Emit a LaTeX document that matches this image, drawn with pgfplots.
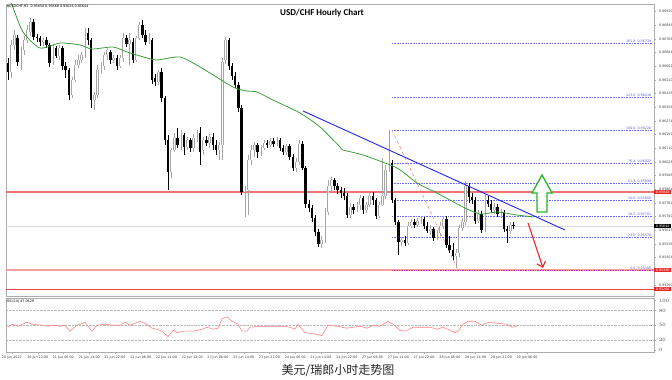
\documentclass[border=0pt]{standalone}
\usepackage{fontspec}
\setmainfont{DejaVu Sans}
\newfontfamily\titlefont{Carlito}
\newfontfamily\cjk{Noto Sans CJK SC}
\usepackage{pgfplots}
\usepackage{pgfplotstable}
\pgfplotsset{compat=1.18}
\usetikzlibrary{arrows.meta}

\definecolor{magreen}{RGB}{60,160,60}
\definecolor{tlblue}{RGB}{35,35,235}
\definecolor{fibblue}{RGB}{110,110,255}
\definecolor{lred}{RGB}{242,115,115}
\definecolor{pred}{RGB}{245,160,160}
\definecolor{dred}{RGB}{232,70,70}
\definecolor{boxred}{RGB}{235,40,40}
\definecolor{rsired}{RGB}{255,130,130}
\definecolor{fibmag}{RGB}{200,50,200}
\definecolor{bullgray}{RGB}{165,165,165}
\definecolor{arrgreen}{RGB}{40,180,40}
\definecolor{arrred}{RGB}{230,40,40}
\newcommand\tinyf{\fontsize{3.3}{4}\selectfont}

\pgfplotstableread{
i o h l c
0 0.96622 0.96652 0.96520 0.96568
1 0.96568 0.96760 0.96532 0.96730
2 0.96730 0.96820 0.96700 0.96790
3 0.96772 0.96790 0.96604 0.96628
4 0.96628 0.96718 0.96580 0.96700
5 0.96700 0.96784 0.96670 0.96760
6 0.96760 0.96850 0.96742 0.96820
7 0.96808 0.96892 0.96784 0.96868
8 0.96868 0.96886 0.96760 0.96778
9 0.96778 0.96796 0.96748 0.96772
10 0.96772 0.96784 0.96724 0.96748
11 0.96748 0.96772 0.96724 0.96760
12 0.96760 0.96778 0.96712 0.96730
13 0.96730 0.96742 0.96598 0.96622
14 0.96628 0.96730 0.96610 0.96712
15 0.96712 0.96724 0.96652 0.96664
16 0.96664 0.96730 0.96640 0.96712
17 0.96712 0.96724 0.96580 0.96604
18 0.96604 0.96628 0.96532 0.96580
19 0.96580 0.96592 0.96400 0.96430
20 0.96430 0.96538 0.96412 0.96520
21 0.96520 0.96640 0.96508 0.96610
22 0.96610 0.96670 0.96592 0.96640
23 0.96640 0.96688 0.96622 0.96670
24 0.96670 0.96832 0.96652 0.96808
25 0.96802 0.96832 0.96730 0.96760
26 0.96760 0.96772 0.96352 0.96400
27 0.96400 0.96448 0.96340 0.96430
28 0.96430 0.96610 0.96412 0.96580
29 0.96580 0.96628 0.96556 0.96604
30 0.96604 0.96688 0.96580 0.96670
31 0.96670 0.96712 0.96640 0.96700
32 0.96688 0.96700 0.96616 0.96640
33 0.96640 0.96670 0.96622 0.96652
34 0.96652 0.96670 0.96580 0.96604
35 0.96604 0.96670 0.96592 0.96652
36 0.96652 0.96802 0.96628 0.96772
37 0.96772 0.96790 0.96718 0.96736
38 0.96736 0.96802 0.96610 0.96760
39 0.96748 0.96772 0.96622 0.96640
40 0.96640 0.96784 0.96628 0.96772
41 0.96772 0.96868 0.96760 0.96850
42 0.96850 0.96880 0.96772 0.96790
43 0.96790 0.96820 0.96730 0.96748
44 0.96748 0.96802 0.96736 0.96772
45 0.96760 0.96772 0.96496 0.96520
46 0.96532 0.96556 0.96484 0.96508
47 0.96508 0.96580 0.96490 0.96568
48 0.96568 0.96592 0.96388 0.96412
49 0.96412 0.96424 0.96130 0.96160
50 0.96160 0.96190 0.95860 0.95968
51 0.95968 0.96112 0.95932 0.96100
52 0.96100 0.96202 0.96088 0.96172
53 0.96172 0.96232 0.96112 0.96130
54 0.96130 0.96220 0.96100 0.96190
55 0.96190 0.96202 0.96070 0.96118
56 0.96118 0.96178 0.96100 0.96160
57 0.96160 0.96172 0.96088 0.96112
58 0.96112 0.96196 0.96088 0.96172
59 0.96172 0.96220 0.96148 0.96202
60 0.96202 0.96238 0.96010 0.96088
61 0.96100 0.96178 0.96070 0.96160
62 0.96160 0.96184 0.96124 0.96142
63 0.96142 0.96196 0.96112 0.96178
64 0.96178 0.96202 0.96100 0.96130
65 0.96130 0.96160 0.96070 0.96100
66 0.96100 0.96148 0.96040 0.96130
67 0.96130 0.96652 0.96040 0.96628
68 0.96640 0.96778 0.96616 0.96760
69 0.96760 0.96772 0.96580 0.96604
70 0.96604 0.96622 0.96520 0.96544
71 0.96544 0.96568 0.96472 0.96490
72 0.96490 0.96508 0.96328 0.96352
73 0.96352 0.96370 0.95830 0.95848
74 0.95848 0.95884 0.95698 0.95860
75 0.95860 0.96070 0.95710 0.96040
76 0.96040 0.96130 0.96010 0.96100
77 0.96100 0.96148 0.96058 0.96130
78 0.96130 0.96142 0.96052 0.96088
79 0.96088 0.96130 0.96064 0.96112
80 0.96112 0.96160 0.96100 0.96142
81 0.96142 0.96160 0.96112 0.96130
82 0.96130 0.96172 0.96118 0.96154
83 0.96154 0.96172 0.96118 0.96136
84 0.96136 0.96178 0.96124 0.96160
85 0.96160 0.96172 0.96094 0.96112
86 0.96112 0.96130 0.96070 0.96088
87 0.96088 0.96136 0.96070 0.96124
88 0.96124 0.96136 0.96040 0.96058
89 0.96058 0.96076 0.95974 0.95992
90 0.95992 0.96052 0.95968 0.96028
91 0.96028 0.96160 0.96010 0.96136
92 0.96136 0.96154 0.95980 0.95992
93 0.95992 0.96004 0.95752 0.95776
94 0.95776 0.95800 0.95728 0.95752
95 0.95752 0.95770 0.95668 0.95692
96 0.95692 0.95710 0.95584 0.95608
97 0.95608 0.95626 0.95518 0.95536
98 0.95536 0.95584 0.95512 0.95560
99 0.95560 0.95752 0.95542 0.95728
100 0.95728 0.95920 0.95710 0.95884
101 0.95884 0.95938 0.95848 0.95920
102 0.95920 0.95932 0.95860 0.95884
103 0.95884 0.95902 0.95836 0.95860
104 0.95860 0.95878 0.95812 0.95842
105 0.95842 0.95872 0.95800 0.95824
106 0.95824 0.95842 0.95692 0.95710
107 0.95710 0.95782 0.95692 0.95758
108 0.95758 0.95776 0.95716 0.95740
109 0.95740 0.95788 0.95728 0.95770
110 0.95770 0.95830 0.95740 0.95812
111 0.95812 0.95824 0.95716 0.95740
112 0.95740 0.95788 0.95722 0.95770
113 0.95770 0.95842 0.95758 0.95824
114 0.95824 0.95848 0.95770 0.95800
115 0.95800 0.95812 0.95686 0.95704
116 0.95704 0.95788 0.95692 0.95770
117 0.95770 0.96052 0.95764 0.95824
118 0.95824 0.96010 0.95806 0.95980
119 0.95980 0.96220 0.95968 0.96022
120 0.96022 0.96040 0.95782 0.95800
121 0.95800 0.95812 0.95650 0.95668
122 0.95668 0.95680 0.95470 0.95548
123 0.95548 0.95578 0.95524 0.95560
124 0.95560 0.95584 0.95524 0.95542
125 0.95542 0.95668 0.95530 0.95644
126 0.95644 0.95686 0.95632 0.95668
127 0.95668 0.95686 0.95632 0.95650
128 0.95650 0.95692 0.95638 0.95674
129 0.95674 0.95704 0.95656 0.95686
130 0.95686 0.95698 0.95626 0.95644
131 0.95644 0.95668 0.95602 0.95614
132 0.95614 0.95650 0.95590 0.95626
133 0.95626 0.95638 0.95554 0.95572
134 0.95572 0.95620 0.95560 0.95602
135 0.95602 0.95668 0.95584 0.95644
136 0.95644 0.95704 0.95626 0.95686
137 0.95686 0.95704 0.95512 0.95530
138 0.95530 0.95584 0.95482 0.95500
139 0.95500 0.95542 0.95440 0.95464
140 0.95464 0.95506 0.95392 0.95482
141 0.95482 0.95650 0.95458 0.95632
142 0.95632 0.95692 0.95614 0.95668
143 0.95668 0.95914 0.95650 0.95884
144 0.95884 0.95902 0.95782 0.95818
145 0.95818 0.95842 0.95776 0.95800
146 0.95800 0.95818 0.95656 0.95674
147 0.95674 0.95740 0.95662 0.95716
148 0.95716 0.95734 0.95602 0.95620
149 0.95620 0.95830 0.95608 0.95800
150 0.95800 0.95824 0.95758 0.95776
151 0.95776 0.95800 0.95722 0.95740
152 0.95740 0.95782 0.95716 0.95758
153 0.95758 0.95776 0.95698 0.95716
154 0.95716 0.95746 0.95692 0.95728
155 0.95728 0.95740 0.95608 0.95626
156 0.95626 0.95644 0.95542 0.95614
157 0.95614 0.95668 0.95596 0.95650
158 0.95650 0.95668 0.95626 0.95644
}\candles

\begin{document}
\begin{tikzpicture}
\path[use as bounding box] (0,0) rectangle (672pt,-380pt);

\begin{axis}[
  at={(6pt,-4pt)}, anchor=north west, scale only axis,
  width=648pt, height=292.5pt,
  xmin=-0.625, xmax=201.875, ymin=0.95221, ymax=0.96976,
  clip mode=individual,
  axis line style={gray!65, line width=0.6pt},
  xtick=\empty,
  ytick={0.96930,0.96848,0.96766,0.96684,0.96602,0.96520,0.96438,0.96356,0.96274,0.96192,0.96110,0.96028,0.95946,0.95864,0.95782,0.95700,0.95618,0.95536,0.95454,0.95290},
  yticklabels={0.96930,0.96848,0.96766,0.96684,0.96602,0.96520,0.96438,0.96356,0.96274,0.96192,0.96110,0.96028,0.95946,0.95864,0.95782,0.95700,0.95618,0.95536,0.95454,0.95290},
  ytick pos=right, yticklabel pos=right,
  tick align=outside, major tick length=2pt,
  tick style={gray!65, line width=0.4pt},
  yticklabel style={font=\tinyf, text=black!75, anchor=west, xshift=-0.5pt},
]
% horizontal levels
\addplot[gray!30, line width=0.6pt] coordinates {(-0.625,0.95644) (201.875,0.95644)};
\addplot[lred, line width=1.6pt] coordinates {(-0.625,0.95848) (201.875,0.95848)};
\addplot[pred, line width=1.8pt] coordinates {(-0.625,0.95380) (201.875,0.95380)};
\addplot[dred, line width=0.7pt] coordinates {(-0.625,0.95266) (201.875,0.95266)};
% fibonacci levels
\addplot[fibblue, densely dotted, line width=0.6pt] coordinates {(120,0.96739) (201.3,0.96739)};
\addplot[fibblue, densely dotted, line width=0.6pt] coordinates {(120,0.96418) (201.3,0.96418)};
\addplot[fibblue, densely dotted, line width=0.6pt] coordinates {(120,0.96220) (201.3,0.96220)};
\addplot[fibblue, densely dotted, line width=0.6pt] coordinates {(120,0.96022) (201.3,0.96022)};
\addplot[fibblue, densely dotted, line width=0.6pt] coordinates {(120,0.95899) (201.3,0.95899)};
\addplot[fibblue, densely dotted, line width=0.6pt] coordinates {(120,0.95800) (201.3,0.95800)};
\addplot[fibblue, densely dotted, line width=0.6pt] coordinates {(120,0.95701) (201.3,0.95701)};
\addplot[fibblue, densely dotted, line width=0.6pt] coordinates {(120,0.95578) (201.3,0.95578)};
\addplot[fibmag, densely dotted, line width=0.7pt] coordinates {(120,0.95380) (201.3,0.95380)};
\addplot[lred, dashed, line width=0.5pt] coordinates {(120,0.96220) (140.6,0.95380)};

% wicks
\addplot[draw=none, mark=none, restrict expr to domain={\thisrow{c}-\thisrow{o}}{0:1},
  error bars/.cd, y dir=plus, y explicit, error mark=none,
  error bar style={draw=bullgray, line width=0.5pt}]
  table[x=i, y=l, y error plus expr=\thisrow{h}-\thisrow{l}] {\candles};
\addplot[draw=none, mark=none, restrict expr to domain={\thisrow{o}-\thisrow{c}}{0.000005:1},
  error bars/.cd, y dir=plus, y explicit, error mark=none,
  error bar style={draw=black, line width=0.5pt}]
  table[x=i, y=l, y error plus expr=\thisrow{h}-\thisrow{l}] {\candles};
% bodies
\addplot[draw=none, mark=none, restrict expr to domain={\thisrow{c}-\thisrow{o}}{0:1},
  error bars/.cd, y dir=plus, y explicit, error mark=none,
  error bar style={draw=bullgray, line width=2.3pt}]
  table[x=i, y=o, y error plus expr=\thisrow{c}-\thisrow{o}] {\candles};
\addplot[draw=none, mark=none, restrict expr to domain={\thisrow{c}-\thisrow{o}}{0:1},
  error bars/.cd, y dir=plus, y explicit, error mark=none,
  error bar style={draw=white, line width=1.0pt}]
  table[x=i, y=o, y error plus expr=\thisrow{c}-\thisrow{o}] {\candles};
\addplot[draw=none, mark=none, restrict expr to domain={\thisrow{o}-\thisrow{c}}{0.000005:1},
  error bars/.cd, y dir=plus, y explicit, error mark=none,
  error bar style={draw=black, line width=2.3pt}]
  table[x=i, y=c, y error plus expr=\thisrow{o}-\thisrow{c}] {\candles};

% moving average
\addplot[magreen, line width=0.8pt, smooth, tension=0.4] coordinates {
(0.6,0.96990) (1.25,0.96970) (4.69,0.96808) (10,0.96712) (16.25,0.96742) (22.5,0.96730)
(26.25,0.96706) (32.81,0.96718) (37.19,0.96688) (43.44,0.96652) (46.56,0.96640)
(53.75,0.96658) (60,0.96598) (70.31,0.96478) (74.69,0.96454) (77.81,0.96448)
(82.81,0.96400) (91.25,0.96322) (97.5,0.96238) (103.75,0.96118) (104.69,0.96100)
(110.94,0.96070) (121.56,0.95992) (127.81,0.95902) (134.06,0.95842) (142.19,0.95758)
(147.5,0.95716) (152.81,0.95728) (159.06,0.95710) (164.06,0.95698)};
% trend line
\addplot[tlblue, line width=0.9pt] coordinates {(92.19,0.96334) (174.06,0.95620)};

% arrows
\draw[arrgreen, line width=1.3pt, fill=white, line join=miter]
 (axis cs:166.875,0.95950) -- (axis cs:170,0.95842) -- (axis cs:168.44,0.95842)
 -- (axis cs:168.44,0.95728) -- (axis cs:165.31,0.95728) -- (axis cs:165.31,0.95842)
 -- (axis cs:163.75,0.95842) -- cycle;
\draw[arrred, line width=1.1pt, -{Straight Barb[length=5pt,width=9pt]}]
 (axis cs:162.5,0.95662) -- (axis cs:167.19,0.95392);

% fib labels
\begin{scope}[every node/.style={font=\tinyf, text=fibblue!85!black, anchor=south east, inner sep=0.4pt}]
\node at (axis cs:201.2,0.96739) {161.8\ \ 0.96739};
\node at (axis cs:201.2,0.96418) {123.6\ \ 0.96418};
\node at (axis cs:201.2,0.96220) {100.0\ \ 0.96220};
\node at (axis cs:201.2,0.96022) {76.4\ \ 0.96022};
\node at (axis cs:201.2,0.95899) {61.8\ \ 0.95899};
\node at (axis cs:201.2,0.95800) {50.0\ \ 0.95800};
\node at (axis cs:201.2,0.95701) {38.2\ \ 0.95701};
\node at (axis cs:201.2,0.95578) {23.6\ \ 0.95578};
\node at (axis cs:201.2,0.95380) {0.0\ \ 0.95380};
\end{scope}
% price boxes on the scale
\begin{scope}[every node/.style={font=\tinyf, text=white, anchor=west, inner xsep=1pt, inner ysep=0.8pt, minimum width=17pt}]
\node[fill=boxred] at (axis cs:201.875,0.95848) {0.95848};
\node[fill=black] at (axis cs:201.875,0.95644) {0.95644};
\node[fill=boxred] at (axis cs:201.875,0.95380) {0.95380};
\node[fill=boxred] at (axis cs:201.875,0.95266) {0.95266};
\end{scope}
\node[anchor=north west, font=\tinyf, inner sep=1pt] at (rel axis cs:0,1)
 {{\fontsize{2.6}{3}\selectfont ▼}USDCHF,H1\ \ 0.95650 0.95668 0.95626 0.95644};
\end{axis}

\begin{axis}[
  at={(6pt,-298.5pt)}, anchor=north west, scale only axis,
  width=648pt, height=53.5pt,
  xmin=-0.625, xmax=201.875, ymin=-4, ymax=104,
  axis line style={gray!65, line width=0.6pt},
  ytick={20,50,80}, extra y ticks={0,100},
  extra y tick style={grid=none},
  ymajorgrids, grid style={gray!55, densely dotted, line width=0.4pt},
  ytick pos=right, yticklabel pos=right,
  tick align=outside, major tick length=2pt,
  tick style={gray!65, line width=0.4pt},
  yticklabel style={font=\tinyf, text=black!75, anchor=west, xshift=-0.5pt},
  xtick={1.2,9.3,17.3,25.4,33.4,41.5,49.5,57.6,65.6,73.7,81.7,89.8,97.8,105.9,113.9,122,130,138.1,146.1,154.2,162.2},
  xticklabels={20 Jun 2022,20 Jun 22:00,21 Jun 06:00,21 Jun 14:00,21 Jun 22:00,22 Jun 06:00,22 Jun 14:00,22 Jun 22:00,23 Jun 06:00,23 Jun 14:00,23 Jun 22:00,24 Jun 06:00,24 Jun 14:00,24 Jun 22:00,27 Jun 06:00,27 Jun 14:00,27 Jun 22:00,28 Jun 06:00,28 Jun 14:00,28 Jun 22:00,29 Jun 06:00},
  xtick pos=bottom,
  xticklabel style={font=\tinyf, text=black!75, yshift=1pt},
]
\addplot[rsired, line width=0.6pt] coordinates {
(0,46) (1.25,52) (3.1,48) (5.9,56) (7.8,52) (10.9,50) (12.5,48) (14.1,50) (16.25,48)
(17.8,50) (19.4,38) (21.6,50) (24.1,56) (26.25,38) (27.8,50) (30.3,52) (32.8,50) (35,50)
(36.6,56) (38.1,50) (41.25,58) (43.4,52) (45,44) (46.6,42) (48.1,38) (50,27) (51.6,40)
(52.8,35) (54.7,38) (57.8,38) (60.6,42) (62.2,46) (64.1,42) (65.6,44) (66.9,63) (68.4,67)
(70,58) (71.9,52) (73.1,38) (74.7,38) (75.6,46) (78.75,48) (82.8,48) (85.9,48) (88.1,46)
(89.7,42) (90.6,52) (92.8,35) (95.3,33) (98.1,29) (100,50) (102.8,48) (105.9,44) (107.8,46)
(110,48) (112.2,44) (114.1,50) (116.25,48) (118.75,58) (120.3,52) (122.5,40) (124.1,38)
(126.6,46) (129.7,46) (131.9,46) (134.1,42) (135.9,46) (138.1,40) (139.7,35) (140.6,38)
(142.2,52) (143.75,58) (145.9,58) (148.1,50) (150,56) (152.8,54) (155.9,52) (157.5,46) (159,48)};
\node[anchor=north west, font=\tinyf, inner sep=1pt] at (rel axis cs:0,1) {RSI(14) 47.0629};
\end{axis}

\node[font=\titlefont\bfseries\fontsize{9}{10}\selectfont] at (322pt,-13pt) {USD/CHF Hourly Chart};
\node[font=\cjk\fontsize{12}{14}\selectfont, text=black!85] at (338pt,-371pt) {美元/瑞郎小时走势图};
\end{tikzpicture}
\end{document}
